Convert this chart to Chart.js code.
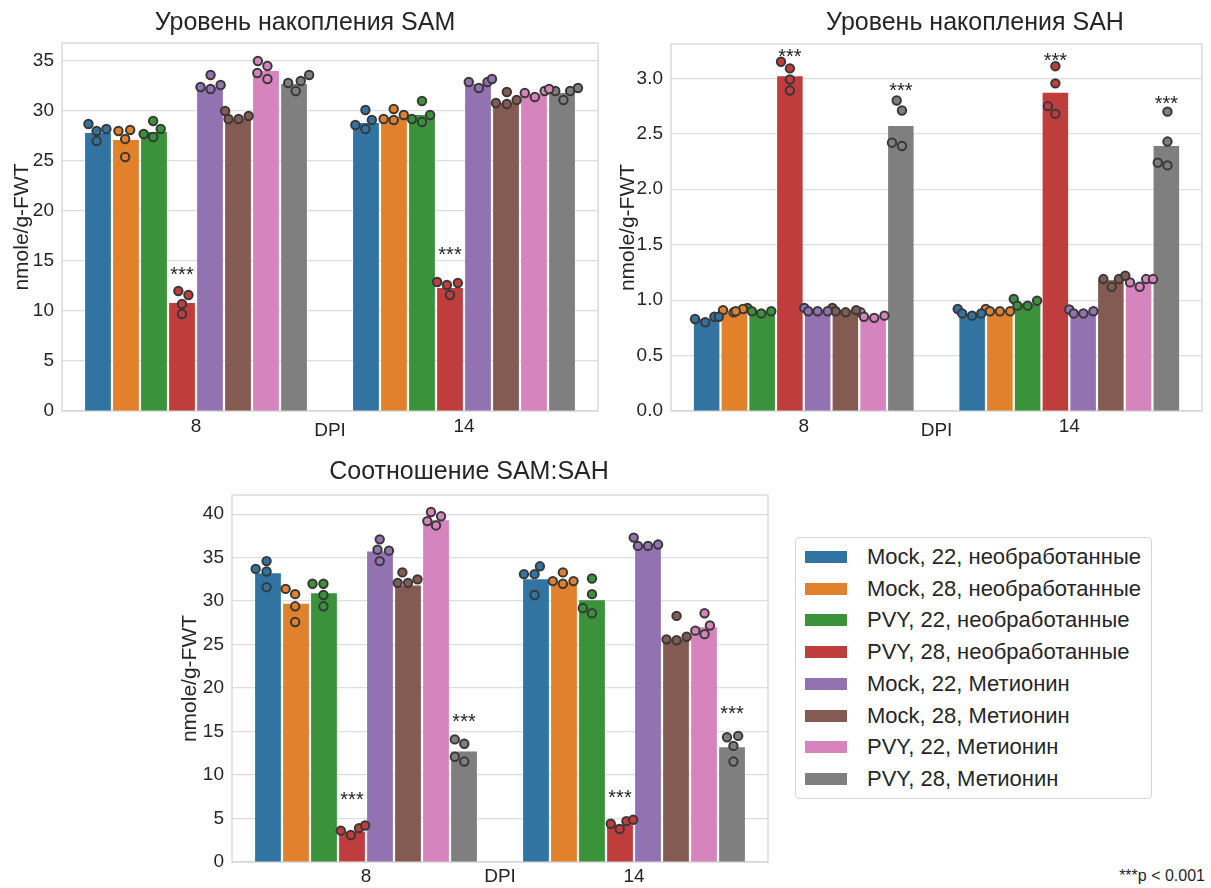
<!DOCTYPE html>
<html>
<head>
<meta charset="utf-8">
<script src="https://cdn.jsdelivr.net/npm/chart.js@4.4.1/dist/chart.umd.min.js"></script>
<style>
  body { margin: 0; background: #fff; width: 1211px; height: 888px; position: relative; overflow: hidden;
         font-family: "Liberation Sans", Arial, sans-serif; color: #262626; }
  canvas { position: absolute; }
  #legend { position: absolute; left: 795px; top: 537px; width: 357px; height: 262px;
            border: 1px solid #d6d6d6; border-radius: 4px; box-sizing: border-box; }
  .row { position: absolute; left: 9px; height: 32px; display: flex; align-items: center; font-size: 22px; white-space: nowrap; }
  .sw { width: 42px; height: 12px; margin-right: 20px; }
  #pval { position: absolute; right: 6px; top: 867px; font-size: 16px; }
</style>
</head>
<body>
<canvas id="sam" width="610" height="445" style="left:0;top:0"></canvas>
<canvas id="samDots" width="610" height="445" style="left:0;top:0"></canvas>
<canvas id="sah" width="601" height="445" style="left:610px;top:0"></canvas>
<canvas id="sahDots" width="601" height="445" style="left:610px;top:0"></canvas>
<canvas id="ratio" width="640" height="438" style="left:150px;top:450px"></canvas>
<canvas id="ratioDots" width="640" height="438" style="left:150px;top:450px"></canvas>
<div id="legend"></div>
<div id="pval">***p &lt; 0.001</div>
<script>
// ---- data ----
const dpi = ['8', '14'];
const groups = [
  'Mock, 22, необработанные', 'Mock, 28, необработанные',
  'PVY, 22, необработанные', 'PVY, 28, необработанные',
  'Mock, 22, Метионин', 'Mock, 28, Метионин',
  'PVY, 22, Метионин', 'PVY, 28, Метионин'
];
const colors = ['#3274a1', '#e1812c', '#3a923a', '#c03d3e', '#9372b2', '#845b53', '#d684bd', '#7f7f7f'];

// bar heights (means), one value per group
const samMean8 = [27.8, 27.1, 27.9, 10.8, 32.4, 29.2, 34.0, 32.7];
const samMean14 = [28.8, 29.4, 29.6, 12.3, 32.7, 30.8, 31.7, 31.8];
const sahMean8 = [0.83, 0.90, 0.90, 3.02, 0.91, 0.91, 0.86, 2.57];
const sahMean14 = [0.88, 0.90, 0.97, 2.87, 0.89, 1.18, 1.16, 2.39];
const ratioMean8 = [33.2, 29.7, 30.9, 3.5, 35.7, 31.8, 39.3, 12.7];
const ratioMean14 = [32.5, 32.1, 30.1, 4.3, 36.2, 25.6, 27.0, 13.2];

// replicates: [value, jitter within the bar slot]
const samPts8 = [
  [[28.7, -0.34], [28.0, -0.05], [28.2, 0.30], [27.0, -0.05]],
  [[28.0, -0.27], [28.1, 0.15], [27.2, -0.03], [25.4, -0.03]],
  [[27.7, -0.37], [29.0, -0.03], [28.2, 0.24], [27.4, -0.03]],
  [[12.0, -0.13], [11.6, 0.23], [10.7, 0], [9.7, 0]],
  [[32.4, -0.34], [33.6, 0.02], [32.2, 0.02], [32.6, 0.38]],
  [[30.0, -0.46], [29.2, -0.34], [29.2, 0.02], [29.5, 0.38]],
  [[35.0, -0.29], [34.5, 0.05], [33.8, -0.31], [33.2, 0.05]],
  [[32.8, -0.21], [32.0, 0.06], [33.0, 0.24], [33.6, 0.54]]
];
const samPts14 = [
  [[28.6, -0.38], [30.1, -0.02], [28.2, -0.02], [29.1, 0.21]],
  [[29.2, -0.37], [30.2, -0.01], [29.1, -0.01], [29.6, 0.35]],
  [[29.2, -0.36], [31.0, 0], [28.9, 0], [29.6, 0.29]],
  [[12.9, -0.46], [12.6, -0.11], [12.8, 0.28], [11.6, 0]],
  [[32.9, -0.33], [32.3, 0.03], [32.9, 0.34], [33.2, 0.5]],
  [[30.8, -0.36], [31.9, 0.03], [30.7, 0.03], [31.1, 0.38]],
  [[31.8, -0.33], [31.4, 0.03], [32.0, 0.38], [32.2, 0.54]],
  [[32.0, -0.24], [31.1, 0.05], [32.0, 0.29], [32.3, 0.57]]
];
const sahPts8 = [
  [[0.83, -0.42], [0.80, -0.05], [0.85, 0.28], [0.85, 0.44]],
  [[0.91, -0.41], [0.89, -0.03], [0.92, 0.31], [0.90, 0.05]],
  [[0.93, -0.53], [0.90, -0.37], [0.88, -0.03], [0.90, 0.33]],
  [[3.15, -0.32], [3.09, 0], [2.99, 0], [2.89, 0]],
  [[0.93, -0.48], [0.90, -0.34], [0.90, 0], [0.90, 0.36]],
  [[0.93, -0.47], [0.90, -0.35], [0.89, 0.01], [0.91, 0.39]],
  [[0.89, -0.45], [0.85, -0.33], [0.84, 0.04], [0.86, 0.41]],
  [[2.80, -0.15], [2.71, 0.04], [2.42, -0.32], [2.39, 0.04]]
];
const sahPts14 = [
  [[0.92, -0.52], [0.88, -0.36], [0.86, 0], [0.88, 0.33]],
  [[0.92, -0.51], [0.90, -0.36], [0.90, 0], [0.90, 0.37]],
  [[1.01, -0.5], [0.95, -0.37], [0.95, 0], [0.995, 0.34]],
  [[3.11, 0], [2.955, 0], [2.75, -0.27], [2.68, 0]],
  [[0.915, -0.5], [0.88, -0.34], [0.88, 0.01], [0.90, 0.37]],
  [[1.19, -0.27], [1.12, 0.03], [1.19, 0.29], [1.22, 0.52]],
  [[1.16, -0.31], [1.12, 0.04], [1.19, 0.27], [1.19, 0.52]],
  [[2.70, 0.04], [2.43, 0.04], [2.24, -0.31], [2.215, 0.04]]
];
const ratioPts8 = [
  [[33.7, -0.44], [34.6, -0.05], [33.4, -0.05], [31.6, -0.05]],
  [[31.4, -0.37], [30.8, -0.03], [29.4, -0.03], [27.6, -0.03]],
  [[32.0, -0.41], [32.0, -0.02], [30.7, -0.02], [29.4, -0.02]],
  [[3.6, -0.4], [3.1, -0.04], [3.9, 0.25], [4.2, 0.47]],
  [[37.1, -0.01], [35.9, -0.09], [35.8, 0.32], [34.6, -0.01]],
  [[32.1, -0.37], [32.1, 0], [33.3, -0.2], [32.5, 0.34]],
  [[40.25, -0.18], [39.75, 0.18], [39.2, -0.31], [38.7, 0]],
  [[14.1, -0.33], [13.6, 0.01], [12.1, -0.33], [11.55, 0.01]]
];
const ratioPts14 = [
  [[33.1, -0.43], [33.1, -0.05], [30.7, -0.05], [34.0, 0.14]],
  [[32.3, -0.4], [33.3, -0.04], [32.0, -0.04], [32.3, 0.34]],
  [[32.6, 0], [30.8, 0], [29.2, -0.33], [28.6, 0]],
  [[4.4, -0.33], [3.8, -0.01], [4.7, 0.23], [4.85, 0.47]],
  [[37.3, -0.51], [36.35, -0.36], [36.35, 0], [36.5, 0.36]],
  [[25.6, -0.34], [25.5, 0.02], [25.9, 0.38], [28.3, 0.02]],
  [[26.6, -0.31], [26.2, 0.02], [27.2, 0.21], [28.6, 0.02]],
  [[14.35, -0.18], [14.5, 0.22], [13.35, 0.05], [11.55, 0.05]]
];

// significance marks: [dpi index, group index, height]
const samStars = [[0, 3, 14.2], [1, 3, 16.2]];
const sahStars = [[0, 3, 3.24], [0, 7, 2.94], [1, 3, 3.21], [1, 7, 2.82]];
const ratioStars = [[0, 3, 7.8], [0, 7, 16.7], [1, 3, 8.0], [1, 7, 17.6]];

// ---- drawing ----
const FONT = '"Liberation Sans", Arial, sans-serif';
const INK = '#262626';
const catPct = 0.836;
const slot = catPct / groups.length;

// position inside the category band, in category units
function hueX(g, h, j) {
  return g + (h - (groups.length - 1) / 2) * slot + j * slot;
}

const decor = {
  id: 'decor',
  beforeDatasetsDraw(chart, args, o) {
    const { ctx, chartArea: a } = chart;
    ctx.save();
    ctx.strokeStyle = '#d2d2d2';
    ctx.lineWidth = 1.2;
    ctx.strokeRect(a.left, a.top, a.width, a.height);
    ctx.restore();
  },
  afterDatasetsDraw(chart, args, o) {
    const { ctx, scales } = chart;
    ctx.save();
    ctx.fillStyle = INK;
    ctx.textAlign = 'center';
    ctx.textBaseline = 'alphabetic';
    ctx.font = '20px ' + FONT;
    o.stars.forEach(([g, h, v]) => {
      ctx.fillText('***', scales.x.getPixelForValue(hueX(g, h, 0)), scales.y.getPixelForValue(v) + 11.5);
    });
    ctx.textBaseline = 'middle';
    ctx.font = '25px ' + FONT;
    ctx.fillText(o.title, o.titleX, o.titleY);
    ctx.restore();
  }
};

function build(id, s) {
  const bars = groups.map((name, h) => ({
    label: name, data: [s.mean8[h], s.mean14[h]],
    backgroundColor: colors[h], borderWidth: 0,
    categoryPercentage: catPct, barPercentage: 0.92
  }));

  new Chart(document.getElementById(id), {
    type: 'bar',
    data: { labels: dpi, datasets: bars },
    options: {
      responsive: false,
      animation: false,
      layout: { padding: s.pad },
      plugins: {
        legend: { display: false },
        tooltip: { enabled: false },
        decor: { stars: s.stars, title: s.title, titleX: s.titleX, titleY: s.titleY }
      },
      scales: {
        x: {
          type: 'category', offset: true,
          grid: { display: false }, border: { display: false },
          ticks: { color: INK, font: { family: FONT, size: 19 }, padding: s.xTickPad },
          title: { display: true, text: 'DPI', color: INK, font: { family: FONT, size: 19 },
                   padding: { top: 0, bottom: s.xTitlePad } },
          afterFit(scale) { scale.height = s.xH; }
        },
        y: {
          min: 0, max: s.ymax,
          grid: { color: '#dedede', lineWidth: 1.2, drawTicks: false }, border: { display: false },
          ticks: { color: INK, font: { family: FONT, size: 19 }, padding: 8, stepSize: s.step,
                   includeBounds: false, callback: s.fmt },
          title: { display: true, text: 'nmole/g-FWT', color: INK, font: { family: FONT, size: 21 },
                   padding: { top: s.yTitlePad, bottom: 0 } },
          afterFit(scale) { scale.width = s.yW; }
        }
      }
    },
    plugins: [decor]
  });

  // replicate points on an overlay with the same plot area
  const dots = groups.map((name, h) => {
    const pts = [];
    [s.pts8, s.pts14].forEach((set, g) => {
      set[h].forEach(([v, j]) => pts.push({ x: hueX(g, h, j), y: v }));
    });
    return {
      label: name, data: pts,
      backgroundColor: colors[h], borderColor: '#383838', borderWidth: 2, pointRadius: 4.2
    };
  });

  new Chart(document.getElementById(id + 'Dots'), {
    type: 'scatter',
    data: { datasets: dots },
    options: {
      responsive: false,
      animation: false,
      layout: { padding: { left: s.pad.left + s.yW, top: s.pad.top, right: s.pad.right, bottom: s.pad.bottom + s.xH } },
      plugins: { legend: { display: false }, tooltip: { enabled: false } },
      scales: {
        x: { type: 'linear', min: -0.5, max: 1.5, offset: false, display: false },
        y: { type: 'linear', min: 0, max: s.ymax, display: false }
      }
    }
  });
}

build('sam', {
  mean8: samMean8, mean14: samMean14, pts8: samPts8, pts14: samPts14, stars: samStars,
  title: 'Уровень накопления SAM', titleX: 305, titleY: 23,
  ymax: 36.8, step: 5, fmt: v => v,
  pad: { left: 0, top: 43, right: 12, bottom: 0 }, yW: 62, xH: 34,
  xTickPad: -4, xTitlePad: 2.6, yTitlePad: 9.4
});

build('sah', {
  mean8: sahMean8, mean14: sahMean14, pts8: sahPts8, pts14: sahPts14, stars: sahStars,
  title: 'Уровень накопления SAH', titleX: 365, titleY: 23,
  ymax: 3.31, step: 0.5, fmt: v => v.toFixed(1),
  pad: { left: 0, top: 44, right: 9, bottom: 0 }, yW: 61, xH: 34,
  xTickPad: -4, xTitlePad: 2.6, yTitlePad: 5.4
});

build('ratio', {
  mean8: ratioMean8, mean14: ratioMean14, pts8: ratioPts8, pts14: ratioPts14, stars: ratioStars,
  title: 'Соотношение SAM:SAH', titleX: 319, titleY: 22,
  ymax: 42.2, step: 5, fmt: v => v,
  pad: { left: 0, top: 45, right: 22, bottom: 0 }, yW: 82, xH: 26,
  xTickPad: -5, xTitlePad: 0, yTitlePad: 27.4
});

// legend
const legend = document.getElementById('legend');
groups.forEach((name, i) => {
  const row = document.createElement('div');
  row.className = 'row';
  row.style.top = (3 + i * 31.7) + 'px';
  row.innerHTML = '<span class="sw" style="background:' + colors[i] + '"></span><span></span>';
  row.lastChild.textContent = name;
  legend.appendChild(row);
});
</script>
</body>
</html>
